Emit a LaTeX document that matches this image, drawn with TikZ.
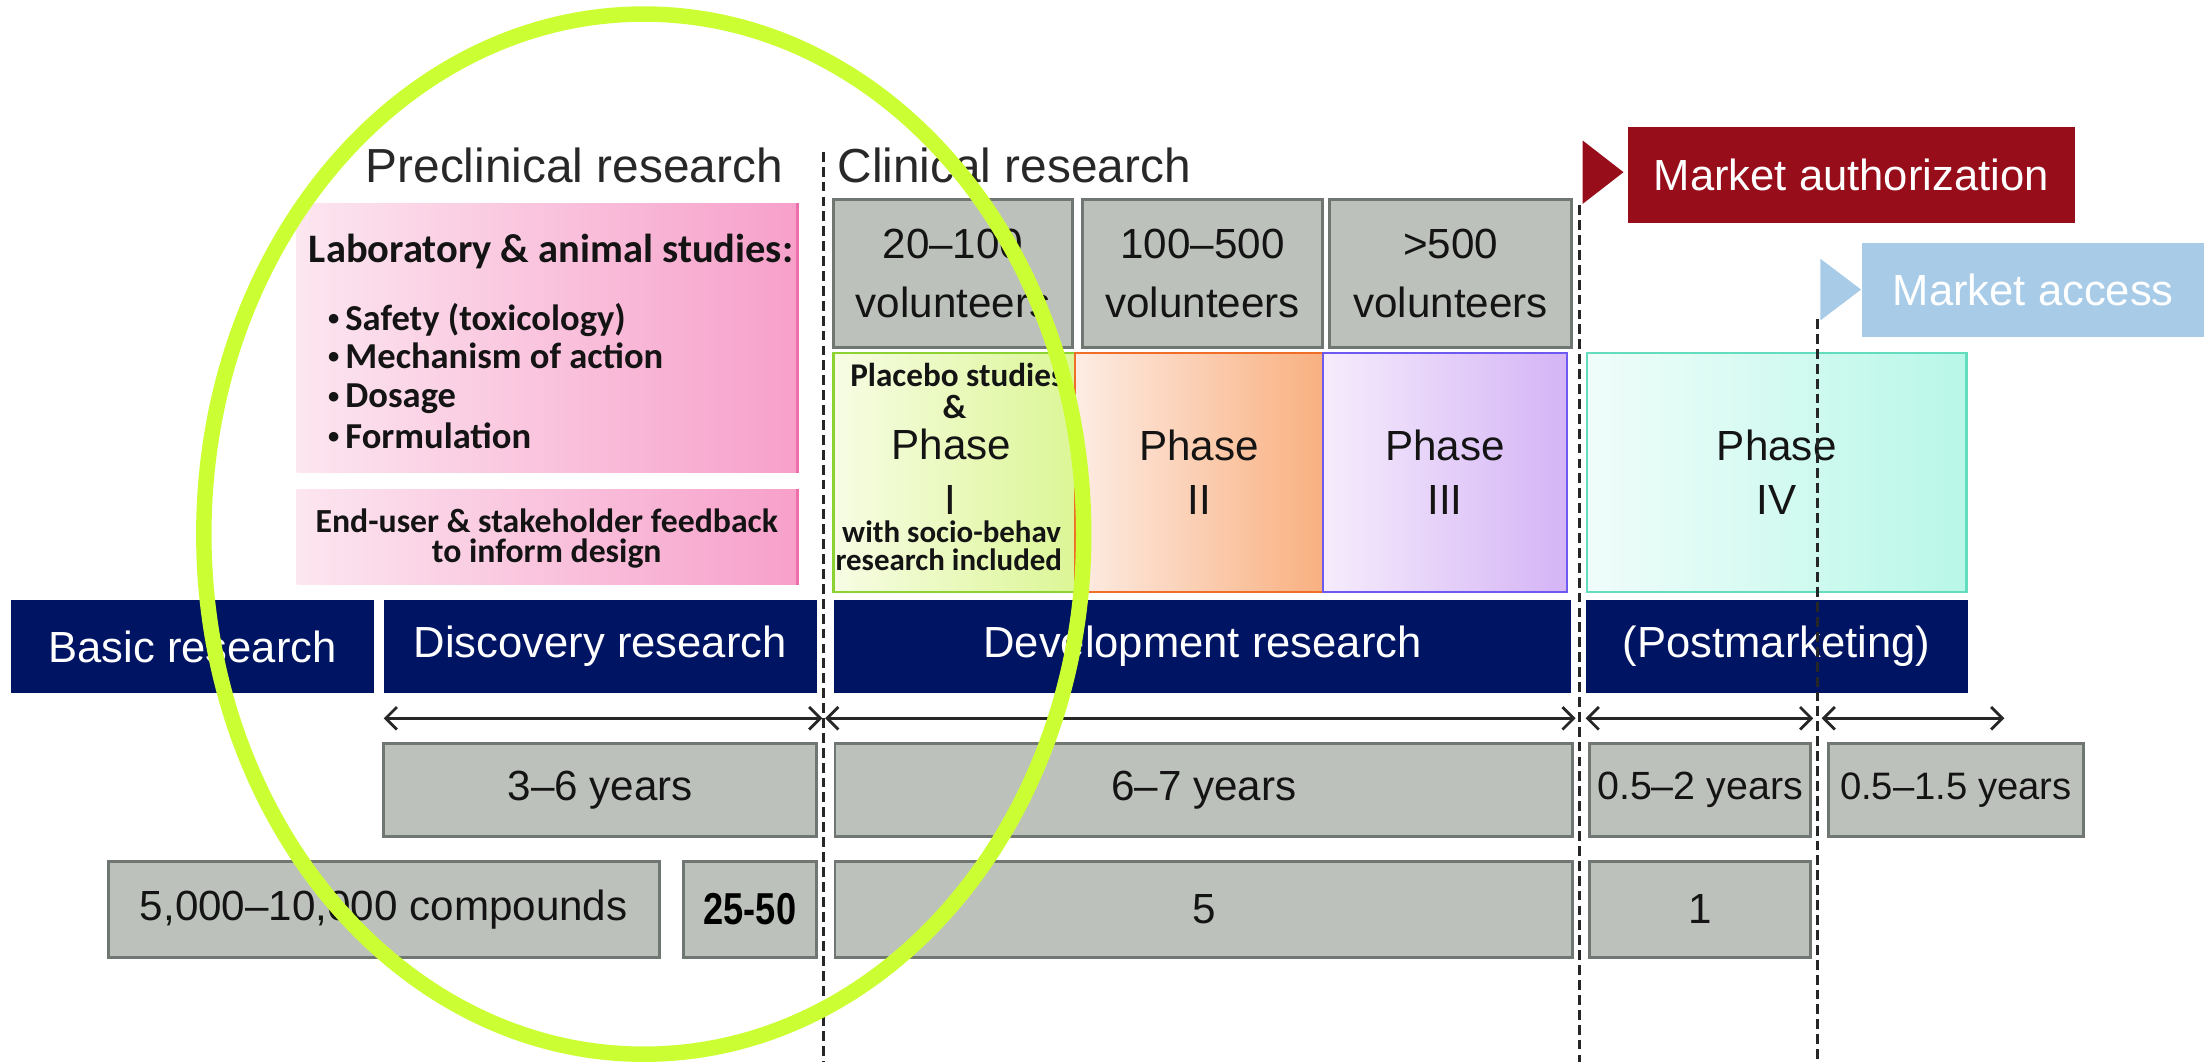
\documentclass[tikz,border=0pt]{standalone}
\usepackage{fontspec}
\setmainfont{Liberation Sans}
\newfontfamily\calib{Carlito}
\usepackage{graphicx}
\usetikzlibrary{arrows.meta,shapes.geometric}
\definecolor{navy}{RGB}{0,20,100}
\definecolor{gboxfill}{RGB}{189,193,187}
\definecolor{gboxline}{RGB}{112,119,115}
\definecolor{mred}{RGB}{152,13,26}
\definecolor{mblue}{RGB}{168,204,232}
\definecolor{limeO}{RGB}{204,255,51}
\definecolor{pinkL}{RGB}{252,230,240}
\definecolor{pinkR}{RGB}{247,160,202}
\definecolor{pinkE}{RGB}{238,110,170}
\definecolor{pIL}{RGB}{247,252,228}
\definecolor{pIR}{RGB}{220,246,150}
\definecolor{pIE}{RGB}{140,210,50}
\definecolor{pIIL}{RGB}{253,236,228}
\definecolor{pIIR}{RGB}{249,176,128}
\definecolor{pIIE}{RGB}{240,110,40}
\definecolor{pIIIL}{RGB}{246,236,252}
\definecolor{pIIIR}{RGB}{212,180,246}
\definecolor{pIIIE}{RGB}{110,90,240}
\definecolor{pIVL}{RGB}{240,253,250}
\definecolor{pIVR}{RGB}{184,247,232}
\definecolor{pIVE}{RGB}{100,220,190}
\definecolor{headtxt}{RGB}{40,40,40}
\definecolor{bodytxt}{RGB}{20,20,20}
\newcommand\rbox[7]{%
  \node[#6, minimum width={(#4-#2)*0.5pt}, minimum height={(#5-#3)*0.5pt}] (#1) at ({(#2+#4)/2},{(#3+#5)/2}) {#7};}
\newcommand\smallbullet{{\fontsize{8}{8}\selectfont\raisebox{1.6pt}{•}}\hspace{2.2pt}}
\tikzset{
  gbox/.style={draw=gboxline, fill=gboxfill, line width=1pt, inner sep=0pt, text=bodytxt, font=\fontsize{15}{21}\selectfont, align=center},
  nbar/.style={fill=navy, inner sep=0pt, text=white, font=\fontsize{15.5}{18}\selectfont},
  phbox/.style={inner sep=0pt, line width=0.8pt, font=\fontsize{15}{19.5}\selectfont, align=center, text=bodytxt},
  pinkbox/.style={left color=pinkL, right color=pinkR, inner sep=0pt},
  heading/.style={text=headtxt, font=\fontsize{17}{20}\selectfont, inner sep=0pt},
  mbox/.style={inner sep=0pt, text=white, font=\fontsize{15.5}{18}\selectfont},
  calbig/.style={inner sep=0pt, text=bodytxt, font=\calib\bfseries\fontsize{14.4}{17}\selectfont},
  calmid/.style={inner sep=0pt, text=bodytxt, font=\calib\bfseries\fontsize{13}{15}\selectfont},
  calsm/.style={inner sep=0pt, text=bodytxt, font=\calib\bfseries\fontsize{12}{14}\selectfont},
  caltiny/.style={inner sep=0pt, text=bodytxt, font=\calib\bfseries\fontsize{11}{13}\selectfont},
  phtxt/.style={inner sep=0pt, text=bodytxt, font=\fontsize{15}{18}\selectfont},
  dashln/.style={black!85, line width=1.1pt, dash pattern=on 3.5pt off 1.8pt},
  dimarrow/.style={black!85, line width=1pt, arrows={Straight Barb[length=4pt,width=8pt]-Straight Barb[length=4pt,width=8pt]}},
  ring/.style={draw=limeO, line width=5.5pt, ellipse, inner sep=0pt}
}
\begin{document}
\begin{tikzpicture}[x=0.5pt,y=-0.5pt]
\path[use as bounding box] (0,0) rectangle (1568,755.5);

% headings
\node[heading, anchor=base] (hpre) at (408.5,129.5) {Preclinical research};
\node[heading, anchor=base] (hcli) at (721.5,129.5) {Clinical research};

% market authorization / access
\fill[mred] (1126,100) -- (1155,122.5) -- (1126,145) -- cycle;
\rbox{mauth}{1158}{90}{1476}{159}{mbox, fill=mred}{Market authorization}
\fill[mblue] (1295,184) -- (1324,206) -- (1295,228) -- cycle;
\rbox{macc}{1325}{173}{1568}{240}{mbox, fill=mblue}{Market access}

% volunteers
\rbox{v1}{593}{142}{763}{247}{gbox}{20–100\\volunteers}
\rbox{v2}{770}{142}{941}{247}{gbox}{100–500\\volunteers}
\rbox{v3}{946}{142}{1118}{247}{gbox}{>500\\volunteers}

% phases
\rbox{ph1}{593}{251}{765}{421}{phbox, left color=pIL, right color=pIR, draw=pIE}{}
\rbox{ph2}{765}{251}{941}{421}{phbox, left color=pIIL, right color=pIIR, draw=pIIE}{Phase\\II}
\rbox{ph3}{941}{251}{1115}{421}{phbox, left color=pIIIL, right color=pIIIR, draw=pIIIE}{Phase\\III}
\rbox{ph4}{1129}{251}{1399}{421}{phbox, left color=pIVL, right color=pIVR, draw=pIVE}{Phase\\IV}
\node[calsm, font=\calib\bfseries\fontsize{11.8}{14}\selectfont, anchor=base] (p1a) at (681,275) {Placebo studies};
\node[calsm, anchor=base] (p1b) at (679,297.5) {\&};
\node[phtxt, anchor=base] (p1c) at (677,327) {Phase};
\node[phtxt, anchor=base] (p1d) at (676,366) {I};
\node[caltiny, anchor=base] (p1e) at (677,386) {with socio-behav};
\node[caltiny, anchor=base] (p1f) at (675,406) {research included};

% pink boxes
\rbox{lab}{211}{145}{567}{336}{pinkbox}{}
\draw[pinkE, line width=1pt] (lab.north east) -- (lab.south east);
\node[calbig, anchor=base] (labh) at (392,187) {Laboratory \& animal studies:};
\node[calmid, anchor=base west] (b1) at (233,235) {\smallbullet Safety (toxicology)};
\node[calmid, anchor=base west] (b2) at (233,262) {\smallbullet Mechanism of action};
\node[calmid, anchor=base west] (b3) at (233,290) {\smallbullet Dosage};
\node[calmid, anchor=base west] (b4) at (233,319) {\smallbullet Formulation};
\rbox{fb}{211}{348}{567}{416}{pinkbox}{}
\draw[pinkE, line width=1pt] (fb.north east) -- (fb.south east);
\node[calsm, anchor=base] (fb1) at (389,378.5) {End-user \& stakeholder feedback};
\node[calsm, anchor=base] (fb2) at (389,400.5) {to inform design};

% navy bars
\rbox{basic}{8}{427}{266}{493}{nbar}{Basic research\hspace{7pt}}
\rbox{disc}{273}{427}{581}{493}{nbar}{Discovery research}
\rbox{dev}{593}{427}{1118}{493}{nbar}{Development research}
\rbox{post}{1128}{427}{1400}{493}{nbar}{(Postmarketing)}

% duration arrows
\coordinate (a1s) at (273,511); \coordinate (a1e) at (585,511);
\coordinate (a2s) at (587,511); \coordinate (a2e) at (1121,511);
\coordinate (a3s) at (1128,511); \coordinate (a3e) at (1290,511);
\coordinate (a4s) at (1296,511); \coordinate (a4e) at (1426,511);
\draw[dimarrow] (a1s) -- (a1e);
\draw[dimarrow] (a2s) -- (a2e);
\draw[dimarrow] (a3s) -- (a3e);
\draw[dimarrow] (a4s) -- (a4e);

% years
\rbox{y1}{273}{529}{581}{595}{gbox}{3–6 years}
\rbox{y2}{594}{529}{1119}{595}{gbox}{6–7 years}
\rbox{y3}{1131}{529}{1288}{595}{gbox, font=\fontsize{14}{17}\selectfont}{0.5–2 years}
\rbox{y4}{1301}{529}{1482}{595}{gbox, font=\fontsize{13.6}{17}\selectfont}{0.5–1.5 years}

% compounds
\rbox{c1}{77}{613}{469}{681}{gbox}{5,000–10,000 compounds}
\rbox{c2}{486}{613}{581}{681}{gbox, text=black, font=\bfseries\fontsize{15.9}{18}\selectfont}{\scalebox{0.81}[1]{25-50}}
\rbox{c3}{594}{613}{1119}{681}{gbox}{5}
\rbox{c4}{1131}{613}{1288}{681}{gbox}{1}

% dashed separators
\coordinate (d1t) at (585.7,108); \coordinate (d1b) at (585.7,756);
\coordinate (d2t) at (1124,146); \coordinate (d2b) at (1124,756);
\coordinate (d3t) at (1293,227); \coordinate (d3b) at (1293,756);
\draw[dashln] (d1t) -- (d1b);
\draw[dashln] (d2t) -- (d2b);
\draw[dashln] (d3t) -- (d3b);

% highlight ring
\node[ring, minimum width=313pt, minimum height=370pt] (hl) at (458,380) {};
\end{tikzpicture}
\end{document}
